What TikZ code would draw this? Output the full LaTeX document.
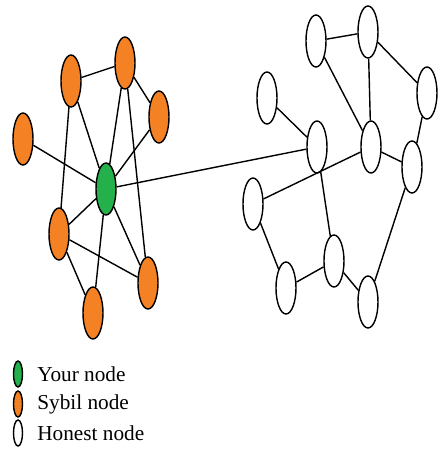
\documentclass[tikz,border=0pt]{standalone}
\usepackage{fontspec}
\setmainfont{Liberation Serif}
\usepackage{tikz}
\usetikzlibrary{shapes}

\definecolor{yourgreen}{RGB}{36,176,75}
\definecolor{sybilorange}{RGB}{244,130,37}

\begin{document}
\begin{tikzpicture}[scale=1]
\tikzstyle{peer}=[ellipse, minimum width=4mm, minimum height=10.4mm, inner sep=0pt, thick, draw=black]
\tikzstyle{your}=[peer, fill=yourgreen]
\tikzstyle{sybil}=[peer, fill=sybilorange]
\tikzstyle{honest}=[peer, fill=white]
\tikzstyle{keymark}=[ellipse, minimum width=1.8mm, minimum height=5.2mm, inner sep=0pt, thick, draw=black]
\tikzstyle{keytext}=[anchor=west, inner sep=0pt, font=\fontsize{12.1}{14}\selectfont]
\tikzstyle{link}=[thick]
\useasboundingbox (0,0) rectangle (8.84,9.02);
	% sybil side
	\node[your] (g) at (2.12,5.24) {};
	\node[sybil] (s_1) at (1.42,7.40) {};
	\node[sybil] (s_2) at (2.50,7.76) {};
	\node[sybil] (s_3) at (3.18,6.68) {};
	\node[sybil] (s_4) at (0.46,6.24) {};
	\node[sybil] (s_5) at (1.18,4.34) {};
	\node[sybil] (s_6) at (2.96,3.36) {};
	\node[sybil] (s_7) at (1.86,2.76) {};
	% honest side
	\node[honest] (h_1) at (6.32,8.20) {};
	\node[honest] (h_2) at (7.36,8.38) {};
	\node[honest] (h_3) at (8.54,7.16) {};
	\node[honest] (h_4) at (5.34,7.06) {};
	\node[honest] (h_5) at (6.34,6.08) {};
	\node[honest] (h_6) at (7.42,6.08) {};
	\node[honest] (h_7) at (8.24,5.68) {};
	\node[honest] (h_8) at (5.06,4.94) {};
	\node[honest] (h_9) at (6.68,3.80) {};
	\node[honest] (h_10) at (5.72,3.26) {};
	\node[honest] (h_11) at (7.36,2.98) {};

	\path[link]
		(s_1) edge [] (s_2)
		(s_2) edge [] (s_3)
		(s_1) edge [] (g)
		(s_1) edge [] (s_5)
		(s_2) edge [] (g)
		(s_2) edge [] (s_6)
		(s_3) edge [] (g)
		(s_4) edge [] (g)
		(g) edge [] (s_5)
		(g) edge [] (s_7)
		(g) edge [] (s_6)
		(s_5) edge [] (s_6)
		(s_5) edge [] (s_7)
		(g) edge [] (h_5);

	\path[link]
		(h_1) edge [] (h_2)
		(h_2) edge [] (h_3)
		(h_2) edge [] (h_6)
		(h_1) edge [] (h_6)
		(h_4) edge [] (h_5)
		(h_5) edge [] (h_9)
		(h_6) edge [] (h_7)
		(h_3) edge [] (h_7)
		(h_6) edge [] (h_8)
		(h_8) edge [] (h_10)
		(h_10) edge [] (h_9)
		(h_9) edge [] (h_11)
		(h_7) edge [] (h_11);

	% legend
	\node[keymark, fill=yourgreen] (k_1) at (0.36,1.54) {};
	\node[keymark, fill=sybilorange] (k_2) at (0.36,0.94) {};
	\node[keymark, fill=white] (k_3) at (0.36,0.36) {};
	\node[keytext] (t_1) at (0.74,1.54) {Your node};
	\node[keytext] (t_2) at (0.74,0.94) {Sybil node};
	\node[keytext] (t_3) at (0.74,0.36) {Honest node};
\end{tikzpicture}
\end{document}
